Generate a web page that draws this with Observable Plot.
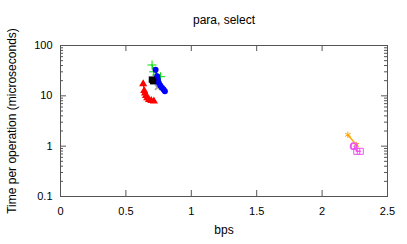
<!DOCTYPE html>
<html>
<head>
<meta charset="utf-8">
<script src="https://cdn.jsdelivr.net/npm/d3@7"></script>
<script src="https://cdn.jsdelivr.net/npm/@observablehq/plot@0.6"></script>
<style>
  html, body { margin: 0; padding: 0; background: #fff; }
  svg { display: block; }
</style>
</head>
<body>
<div id="chart"></div>
<script>
// Series (bps, microseconds per op)
const redBps   = [0.632, 0.640, 0.646, 0.653, 0.663, 0.676, 0.694, 0.714];
const redTime  = [17.3, 12.7, 11.3, 10.1, 9.1, 8.4, 8.0, 7.8];
const greenBps  = [0.700, 0.712, 0.735, 0.765];
const greenTime = [41, 30, 26, 24];
const blueBps  = [0.727, 0.739, 0.744, 0.752, 0.763, 0.776, 0.788, 0.798];
const blueTime = [33, 24.5, 21, 18, 16, 14.5, 13.3, 12.4];
const blackBps  = [0.699, 0.708];
const blackTime = [21, 19.5];
const grayBps  = [0.742];
const grayTime = [14.8];
const orangeBps  = [2.197, 2.261];
const orangeTime = [1.68, 1.06];
const magCircBps  = [2.240];
const magCircTime = [1.0];
const magSqBps  = [2.246, 2.265, 2.292];
const magSqTime = [1.0, 0.79, 0.79];

const xTicks = [0, 0.5, 1, 1.5, 2, 2.5];
const yTicks = [0.1, 1, 10, 100];
const yMinor = [0.2,0.3,0.4,0.5,0.6,0.7,0.8,0.9, 2,3,4,5,6,7,8,9, 20,30,40,50,60,70,80,90];

const rows = (xs, ys) => xs.map((x, i) => ({x, y: ys[i]}));
const red = rows(redBps, redTime);
const green = rows(greenBps, greenTime);
const blue = rows(blueBps, blueTime);
const black = rows(blackBps, blackTime);
const gray = rows(grayBps, grayTime);
const orange = rows(orangeBps, orangeTime);
const magC = rows(magCircBps, magCircTime);
const magS = rows(magSqBps, magSqTime);

const W = 407, H = 244, mL = 60, mR = 20, mT = 45, mB = 48;
const pw = W - mL - mR, ph = H - mT - mB;
const tickCol = "#555";

const chart = Plot.plot({
  width: W, height: H,
  marginLeft: mL, marginRight: mR, marginTop: mT, marginBottom: mB,
  style: {fontFamily: "'Liberation Sans', Arial, sans-serif", fontSize: "11px", color: "#000", background: "#fff"},
  x: {domain: [0, 2.5]},
  y: {type: "log", domain: [0.1, 100]},
  marks: [
    // major/minor ticks, inward, mirrored
    Plot.tickX(xTicks, {x: d => d, stroke: tickCol, insetTop: ph - 6}),
    Plot.tickX(xTicks, {x: d => d, stroke: tickCol, insetBottom: ph - 6}),
    Plot.tickY(yTicks, {y: d => d, stroke: tickCol, insetRight: pw - 6}),
    Plot.tickY(yTicks, {y: d => d, stroke: tickCol, insetLeft: pw - 6}),
    Plot.tickY(yMinor, {y: d => d, stroke: tickCol, insetRight: pw - 3}),
    Plot.tickY(yMinor, {y: d => d, stroke: tickCol, insetLeft: pw - 3}),
    Plot.frame({stroke: tickCol}),
    Plot.axisX({ticks: xTicks, tickSize: 0, tickPadding: 11, label: null, tickFormat: d => String(d)}),
    Plot.axisY({ticks: yTicks, tickSize: 0, tickPadding: 8, label: null, tickFormat: d => String(d)}),
    // series
    Plot.line(red, {x: "x", y: "y", stroke: "#ff0000", strokeWidth: 1}),
    Plot.dot(red, {x: "x", y: "y", symbol: "triangle", fill: "#ff0000", r: 3}),
    Plot.line(green, {x: "x", y: "y", stroke: "#00dd00", strokeWidth: 1}),
    Plot.dot(green, {x: "x", y: "y", symbol: "plus", stroke: "#00dd00", fill: "none", r: 3, strokeWidth: 1}),
    Plot.line(gray, {x: "x", y: "y", stroke: "#a0a0a0"}),
    Plot.dot(gray, {x: "x", y: "y", symbol: "times", stroke: "#a0a0a0", r: 2.5}),
    Plot.line(blue, {x: "x", y: "y", stroke: "#0000ff"}),
    Plot.dot(blue, {x: "x", y: "y", symbol: "circle", fill: "#0000ff", r: 3}),
    Plot.line(black, {x: "x", y: "y", stroke: "#000"}),
    Plot.dot(black, {x: "x", y: "y", symbol: "square", fill: "#000", r: 3.6}),
    Plot.line(orange, {x: "x", y: "y", stroke: "#ffa500"}),
    Plot.dot(orange, {x: "x", y: "y", symbol: "asterisk", stroke: "#ffa500", r: 3, strokeWidth: 1}),
    Plot.dot(magC, {x: "x", y: "y", symbol: "circle", stroke: "#ee55ee", fill: "none", r: 3}),
    Plot.line(magS, {x: "x", y: "y", stroke: "#ee55ee"}),
    Plot.dot(magS, {x: "x", y: "y", symbol: "square", stroke: "#ee55ee", fill: "none", r: 3.4, strokeWidth: 1}),
    // titles
    Plot.text(["para, select"], {frameAnchor: "top", dy: -30, fontSize: 12, fill: "#000"}),
    Plot.text(["bps"], {frameAnchor: "bottom", dy: 37, fontSize: 12, fill: "#000"}),
    Plot.text(["Time per operation (microseconds)"], {frameAnchor: "left", textAnchor: "middle", dx: -48, rotate: -90, fontSize: 12, fill: "#000"})
  ]
});
document.getElementById("chart").appendChild(chart);
</script>
</body>
</html>
